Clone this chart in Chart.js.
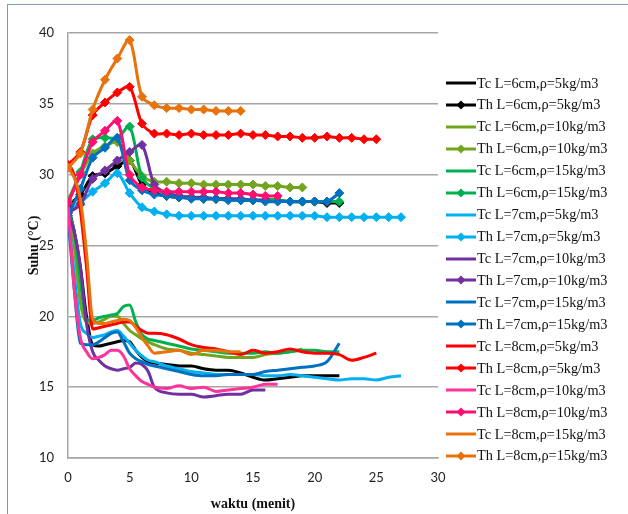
<!DOCTYPE html>
<html>
<head>
<meta charset="utf-8">
<script src="https://cdn.jsdelivr.net/npm/chart.js@4/dist/chart.umd.min.js"></script>
<style>
  html, body { margin: 0; padding: 0; background: #fff; }
  #wrap { position: relative; width: 628px; height: 514px; overflow: hidden; }
  #frame { position: absolute; left: 7px; top: 4px; width: 700px; height: 600px; border: 1px solid #7F9BBC; box-sizing: border-box; }
  #c { position: absolute; left: 0; top: 0; }
  #legend { position: absolute; left: 0; top: 0; }
  .item { position: absolute; left: 446px; height: 20px; display: flex; align-items: center; white-space: nowrap;
          font-family: "Liberation Serif", "Times New Roman", serif; font-size: 14.3px; color: #111; }
  .item svg { margin-right: 1px; flex: none; }
</style>
</head>
<body>
<div id="wrap">
  <div id="frame"></div>
  <canvas id="c" width="628" height="514"></canvas>
  <div id="legend"></div>
</div>
<script>
// ---- time axes (minutes) ----
const thMinutes = [0,1,2,3,4,5,6,7,8,9,10,11,12,13,14,15,16,17,18,19,20,21,22,23,24,25,26,27];
const tcMinutes = [0,0.5,1,1.5,2,2.5,3,3.5,4,4.5,5,5.5,6,6.5,7,8,9,10,11,12,13,14,15,16,17,18,19,20,21,22,23,24,25,26,27];

// ---- series values (°C) ----
const tc6_5  = [27.8,26.0,23.5,20.0,18.0,17.9,18.0,18.1,18.2,18.3,18.2,17.6,17.1,16.8,16.7,16.6,16.5,16.5,16.3,16.2,16.2,16.0,15.7,15.5,15.6,15.7,15.8,15.8,15.8,15.8];
const th6_5  = [27.8,28.6,29.9,30.1,30.6,31.0,29.3,28.7,28.5,28.4,28.4,28.3,28.3,28.3,28.2,28.2,28.2,28.2,28.1,28.1,28.1,28.0,28.0];
const tc6_10 = [28.0,25.0,21.0,19.6,19.5,19.6,19.8,20.0,20.0,19.5,19.0,18.7,18.4,18.2,18.0,17.7,17.6,17.4,17.3,17.2,17.1,17.1,17.1,17.3,17.4,17.5,17.7];
const th6_10 = [28.2,30.0,31.5,32.0,32.3,31.0,29.9,29.5,29.5,29.4,29.4,29.3,29.3,29.3,29.3,29.3,29.2,29.2,29.1,29.1];
const tc6_15 = [27.5,26.0,22.5,19.8,19.7,19.9,20.0,20.1,20.2,20.7,20.8,19.6,18.7,18.4,18.3,18.1,17.9,17.7,17.6,17.5,17.4,17.4,17.4,17.5,17.4,17.5,17.6,17.6,17.5,17.5];
const th6_15 = [28.0,30.2,32.5,32.6,32.6,33.4,29.8,29.0,28.7,28.5,28.4,28.3,28.3,28.2,28.2,28.2,28.2,28.2,28.1,28.1,28.1,28.1,28.1];
const tc7_5  = [27.3,23.0,19.5,18.8,18.5,18.6,18.7,18.9,19.0,18.6,18.1,17.6,17.2,16.9,16.8,16.5,16.3,16.1,16.0,15.9,15.9,15.9,15.9,15.8,15.8,15.9,15.8,15.7,15.6,15.5,15.6,15.6,15.5,15.7,15.8];
const th7_5  = [27.3,28.0,28.8,29.4,30.1,28.7,27.7,27.4,27.2,27.1,27.1,27.1,27.1,27.1,27.1,27.1,27.1,27.1,27.1,27.1,27.1,27.0,27.0,27.0,27.0,27.0,27.0,27.0];
const tc7_10 = [27.2,26.0,23.5,19.5,17.5,16.9,16.5,16.3,16.2,16.3,16.4,16.7,16.6,16.1,15.0,14.6,14.5,14.5,14.3,14.4,14.5,14.5,14.8,14.8];
const th7_10 = [27.3,27.9,29.7,30.3,31.0,31.6,32.1,29.3,28.7,28.5,28.4,28.4,28.3,28.3,28.3,28.2,28.2];
const tc7_15 = [27.0,22.0,18.1,18.0,18.0,18.2,18.5,18.8,18.9,18.2,17.4,17.0,16.8,16.6,16.5,16.3,16.1,15.9,15.8,15.8,15.9,15.9,15.9,16.1,16.2,16.3,16.4,16.5,16.8,18.1];
const th7_15 = [27.1,29.0,31.2,31.9,32.6,29.6,28.9,28.6,28.5,28.4,28.3,28.3,28.3,28.2,28.2,28.2,28.1,28.1,28.1,28.1,28.1,28.1,28.7];
const tc8_5  = [30.7,30.0,27.5,23.5,19.1,19.2,19.3,19.4,19.5,19.6,19.6,19.3,19.0,18.8,18.8,18.7,18.4,18.0,17.8,17.7,17.5,17.3,17.6,17.4,17.5,17.7,17.5,17.4,17.4,17.3,16.9,17.1,17.4];
const th8_5  = [30.7,31.6,34.2,35.1,35.8,36.2,33.6,32.9,32.9,32.8,32.9,32.8,32.8,32.8,32.9,32.8,32.8,32.7,32.7,32.6,32.6,32.7,32.6,32.6,32.5,32.5];
const tc8_10 = [28.0,22.0,18.5,17.5,17.0,17.1,17.3,17.6,17.6,17.2,16.3,15.8,15.4,15.2,15.0,14.9,15.1,14.9,15.0,14.7,14.8,14.9,15.0,15.2,15.2];
const th8_10 = [28.0,30.0,32.3,33.1,33.8,30.0,29.1,28.9,28.8,28.8,28.8,28.8,28.8,28.7,28.7,28.6,28.5,28.5];
const tc8_15 = [30.5,29.8,28.3,24.5,19.8,19.5,19.5,19.6,19.7,19.8,19.7,19.2,18.5,17.9,17.4,17.5,17.6,17.3,17.6,17.6,17.5,17.5];
const th8_15 = [30.5,31.5,34.6,36.7,38.2,39.5,35.5,34.9,34.7,34.7,34.6,34.6,34.5,34.5,34.5];

// ---- legend labels (in series order) ----
const seriesLabels = [
  'Tc L=6cm,ρ=5kg/m3','Th L=6cm,ρ=5kg/m3',
  'Tc L=6cm,ρ=10kg/m3','Th L=6cm,ρ=10kg/m3',
  'Tc L=6cm,ρ=15kg/m3','Th L=6cm,ρ=15kg/m3',
  'Tc L=7cm,ρ=5kg/m3','Th L=7cm,ρ=5kg/m3',
  'Tc L=7cm,ρ=10kg/m3','Th L=7cm,ρ=10kg/m3',
  'Tc L=7cm,ρ=15kg/m3','Th L=7cm,ρ=15kg/m3',
  'Tc L=8cm,ρ=5kg/m3','Th L=8cm,ρ=5kg/m3',
  'Tc L=8cm,ρ=10kg/m3','Th L=8cm,ρ=10kg/m3',
  'Tc L=8cm,ρ=15kg/m3','Th L=8cm,ρ=15kg/m3'
];
const seriesValues = [tc6_5, th6_5, tc6_10, th6_10, tc6_15, th6_15, tc7_5, th7_5, tc7_10, th7_10, tc7_15, th7_15, tc8_5, th8_5, tc8_10, th8_10, tc8_15, th8_15];

// ---- styles ----
const seriesColors = ['#000000','#000000','#72A51E','#72A51E','#00B050','#00B050','#00B0F0','#00B0F0',
  '#7030A0','#7030A0','#0070C0','#0070C0','#FF0000','#FF0000','#FF3399','#FF0F6F','#E8720C','#E8720C'];

const N = seriesValues.length;
const datasets = seriesValues.map((vals, i) => {
  const isTh = i % 2 === 1;
  const xs = isTh ? thMinutes : tcMinutes;
  return {
    label: seriesLabels[i],
    data: vals.map((v, j) => ({ x: xs[j], y: v })),
    borderColor: seriesColors[i],
    backgroundColor: seriesColors[i],
    borderWidth: 3,
    pointStyle: 'rectRot',
    pointRadius: isTh ? 4.5 : 0,
    pointBorderWidth: 1,
    pointBorderColor: seriesColors[i],
    pointBackgroundColor: seriesColors[i],
    tension: isTh ? 0.3 : 0.4,
    cubicInterpolationMode: isTh ? 'default' : 'monotone',
    fill: false,
    order: N - i
  };
});

const tickFont = { family: 'Lato, "Open Sans", sans-serif', size: 13 };

new Chart(document.getElementById('c'), {
  type: 'line',
  data: { datasets },
  options: {
    responsive: false,
    animation: false,
    devicePixelRatio: 1,
    layout: { padding: { left: 14, top: 33, right: 190, bottom: 0 } },
    plugins: { legend: { display: false }, tooltip: { enabled: false } },
    scales: {
      x: {
        type: 'linear', min: 0, max: 30,
        ticks: { stepSize: 5, padding: 12, font: tickFont, color: '#222', maxRotation: 0 },
        grid: { display: false, drawTicks: false },
        border: { display: true, color: '#A6A6A6', width: 1.5 },
        title: { display: true, text: 'waktu (menit)', color: '#111',
                 font: { family: '"Liberation Serif", serif', size: 14, weight: 'bold' }, padding: { top: 0, bottom: 1 } },
        afterFit: s => { s.height = 56; }
      },
      y: {
        min: 10, max: 40,
        ticks: { stepSize: 5, padding: 14, font: tickFont, color: '#222' },
        grid: { color: '#A6A6A6', lineWidth: 1.5, drawTicks: false },
        border: { display: true, color: '#A6A6A6', width: 1.5 },
        title: { display: true, text: 'Suhu (°C)', color: '#111',
                 font: { family: '"Liberation Serif", serif', size: 14, weight: 'bold' }, padding: { top: 12, bottom: 0 } },
        afterFit: s => { s.width = 54; }
      }
    }
  }
});

// ---- HTML legend built from the datasets ----
const legend = document.getElementById('legend');
datasets.forEach((ds, i) => {
  const isTh = i % 2 === 1;
  const row = document.createElement('div');
  row.className = 'item';
  row.style.top = (73 + i * 21.94) + 'px';
  const c = ds.borderColor;
  row.innerHTML =
    '<svg width="30" height="12" viewBox="0 0 30 12">' +
    '<line x1="0" y1="6" x2="30" y2="6" stroke="' + c + '" stroke-width="3"/>' +
    (isTh ? '<path d="M15 1.5 L19.5 6 L15 10.5 L10.5 6 Z" fill="' + c + '"/>' : '') +
    '</svg>';
  const span = document.createElement('span');
  span.textContent = ds.label;
  row.appendChild(span);
  legend.appendChild(row);
});
</script>
</body>
</html>
